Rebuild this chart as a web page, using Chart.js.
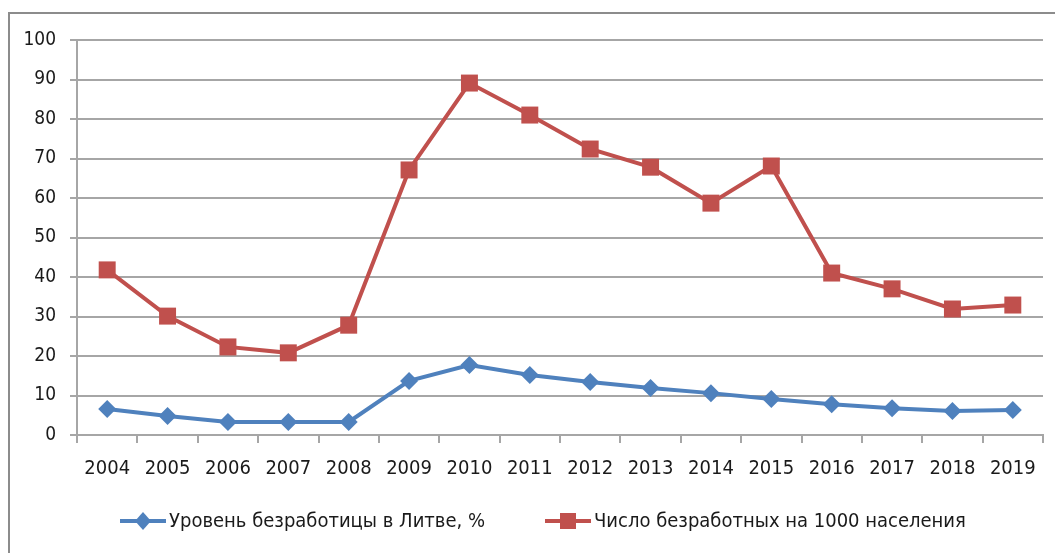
<!DOCTYPE html>
<html lang="ru">
<head>
<meta charset="utf-8">
<script src="https://cdn.jsdelivr.net/npm/chart.js@4.4.1/dist/chart.umd.min.js"></script>
<style>
  html, body { margin: 0; padding: 0; background: #fff; }
  body { width: 1055px; height: 553px; position: relative; overflow: hidden; }
  .frame { position: absolute; left: 8px; top: 12px; width: 1100px; height: 600px;
           border-left: 2px solid #8c8c8c; border-top: 2px solid #8c8c8c; }
  #wrap { position: absolute; left: 0; top: 0; width: 1055px; height: 553px; }
</style>
</head>
<body>
<div class="frame"></div>
<div id="wrap"><canvas id="myChart"></canvas></div>
<script>
var years = ["2004", "2005", "2006", "2007", "2008", "2009", "2010", "2011",
             "2012", "2013", "2014", "2015", "2016", "2017", "2018", "2019"];
var unemploymentRate = [6.6, 4.8, 3.3, 3.3, 3.3, 13.7, 17.7, 15.2, 13.4, 11.9, 10.6, 9.1, 7.8, 6.8, 6.1, 6.3];
var unemployedPer1000 = [41.8, 30.1, 22.3, 20.8, 27.8, 67.1, 89.1, 81.0, 72.4, 67.8, 58.7, 68.1, 41.0, 37.0, 31.9, 32.9];
var seriesNames = ["Уровень безработицы в Литве, %", "Число безработных на 1000 населения"];
var yTicks = [0, 10, 20, 30, 40, 50, 60, 70, 80, 90, 100];

var blue = "#4f81bd";
var red = "#c0504d";
var font = "'Liberation Sans Narrow', 'DejaVu Sans Condensed', sans-serif";

// legend under the axis: short line with its marker in the middle, then the name
var lineLegend = {
  id: "lineLegend",
  afterDraw: function (chart) {
    var ctx = chart.ctx;
    var items = [
      { x: 120, ds: chart.data.datasets[0] },
      { x: 545, ds: chart.data.datasets[1] }
    ];
    var y = 521;
    ctx.save();
    items.forEach(function (it) {
      var cx = it.x + 23;
      ctx.strokeStyle = it.ds.borderColor;
      ctx.lineWidth = 4;
      ctx.beginPath();
      ctx.moveTo(it.x, y);
      ctx.lineTo(it.x + 46, y);
      ctx.stroke();
      ctx.fillStyle = it.ds.backgroundColor;
      ctx.beginPath();
      if (it.ds.pointStyle === "rect") {
        ctx.rect(cx - 8, y - 8, 16, 16);
      } else {
        ctx.moveTo(cx, y - 9);
        ctx.lineTo(cx + 8, y);
        ctx.lineTo(cx, y + 9);
        ctx.lineTo(cx - 8, y);
        ctx.closePath();
      }
      ctx.fill();
      ctx.fillStyle = "#1a1a1a";
      ctx.font = "20px " + font;
      ctx.textBaseline = "middle";
      ctx.textAlign = "left";
      ctx.fillText(it.ds.label, it.x + 49, y + 1);
    });
    ctx.restore();
  }
};

new Chart("myChart", {
  type: "line",
  data: {
    labels: years,
    datasets: [{
      label: seriesNames[0],
      data: unemploymentRate,
      borderColor: blue,
      backgroundColor: blue,
      borderWidth: 4,
      pointStyle: "rectRot",
      pointRadius: 9,
      pointBorderWidth: 0,
      tension: 0
    }, {
      label: seriesNames[1],
      data: unemployedPer1000,
      borderColor: red,
      backgroundColor: red,
      borderWidth: 4,
      pointStyle: "rect",
      pointRadius: 12,
      pointBorderWidth: 0,
      tension: 0
    }]
  },
  options: {
    responsive: true,
    maintainAspectRatio: false,
    animation: false,
    layout: { padding: { top: 40, right: 10, left: 0, bottom: 68 } },
    plugins: {
      legend: { display: false },
      tooltip: { enabled: false }
    },
    scales: {
      x: {
        offset: true,
        grid: { drawOnChartArea: false, drawTicks: true, tickLength: 8, color: "#a6a6a6", lineWidth: 2, offset: true },
        border: { color: "#a6a6a6", width: 2 },
        ticks: { color: "#1a1a1a", font: { family: font, size: 20 }, padding: 14, maxRotation: 0, autoSkip: false },
        afterFit: function (scale) { scale.height = 50; }
      },
      y: {
        min: 0,
        max: 100,
        afterBuildTicks: function (scale) {
          scale.ticks = yTicks.map(function (v) { return { value: v }; });
        },
        grid: { color: "#a6a6a6", lineWidth: 2, tickLength: 7 },
        border: { color: "#a6a6a6", width: 2 },
        ticks: { color: "#1a1a1a", font: { family: font, size: 19 }, padding: 14 },
        afterFit: function (scale) { scale.width = 77; }
      }
    }
  },
  plugins: [lineLegend]
});
</script>
</body>
</html>
